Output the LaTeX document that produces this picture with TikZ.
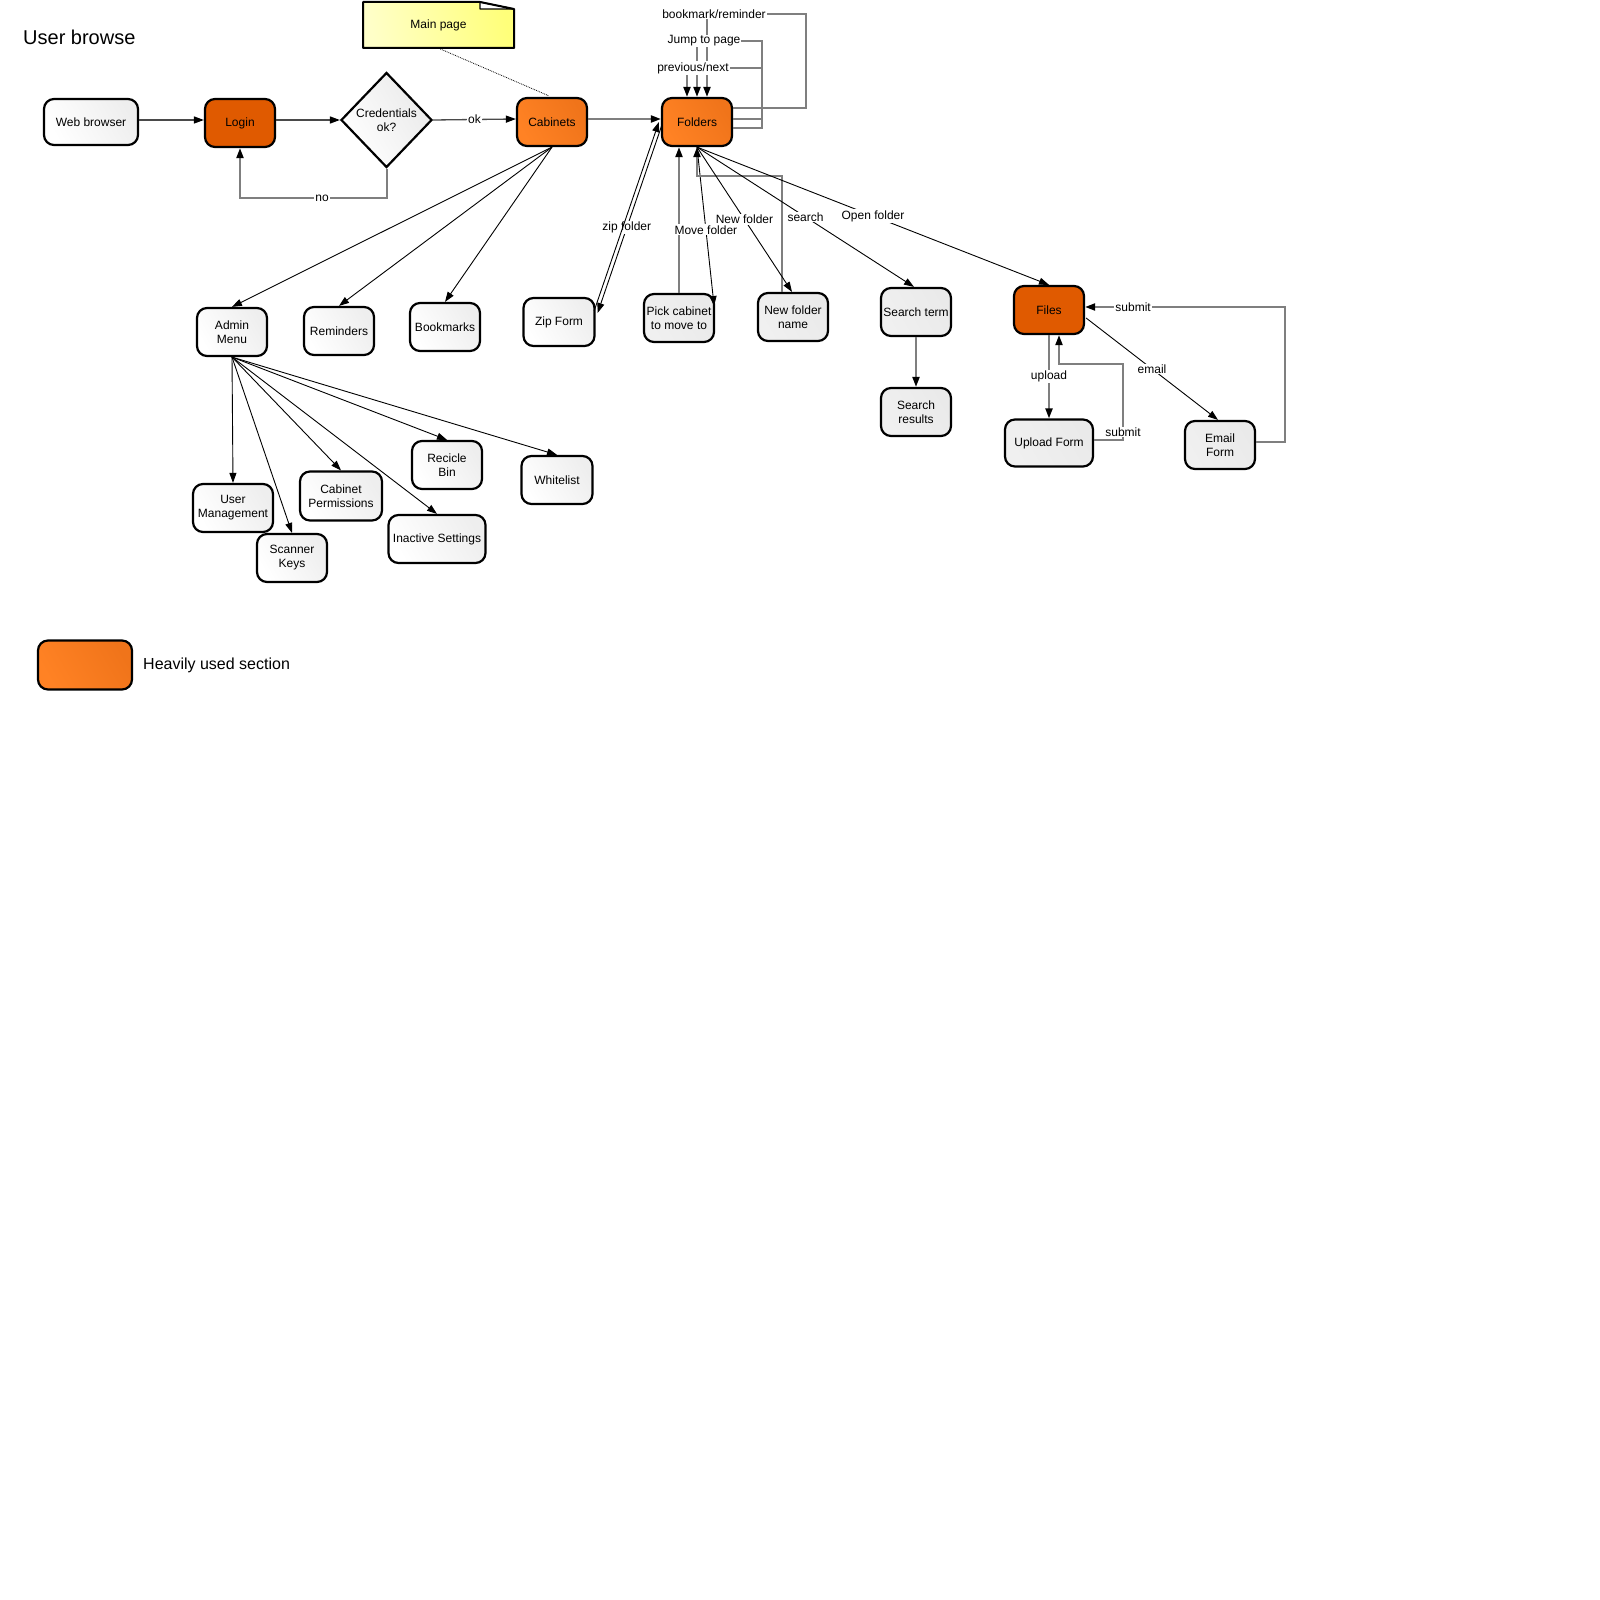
\documentclass[tikz,border=0pt]{standalone}
\usepackage{fontspec}
\setmainfont{Liberation Sans}
\usetikzlibrary{arrows.meta,shapes.geometric,calc}
\definecolor{hotA}{HTML}{FF8224}
\definecolor{hotB}{HTML}{F0741A}
\definecolor{darkor}{HTML}{E05A00}
\definecolor{lgray}{HTML}{F0F0F0}
\definecolor{lgrayB}{HTML}{EAEAEA}
\definecolor{wgrayB}{HTML}{EEEEEE}
\definecolor{edgegray}{HTML}{7F7F7F}
\definecolor{edgedark}{HTML}{4A4A4A}
\definecolor{noteA}{HTML}{FFFFC8}
\definecolor{noteB}{HTML}{FFFF7A}
\tikzset{
  f12/.style={font=\fontsize{12}{14}\selectfont},
  box/.style={draw=black, line width=2.2pt, rounded corners=10pt, minimum width=70pt, minimum height=48pt, inner sep=1pt, align=center, f12},
  whitebox/.style={box, left color=white, right color=wgrayB, shading angle=120},
  graybox/.style={box, left color=lgray, right color=lgrayB, shading angle=120},
  hotbox/.style={box, left color=hotA, right color=hotB, shading angle=120},
  darkbox/.style={box, fill=darkor},
  tip/.style={-{Triangle[length=10pt,width=7pt,color=black]}},
  bl/.style={draw=black, line width=0.9pt, tip},
  gr/.style={draw=edgegray, line width=2pt, tip},
  gd/.style={draw=edgedark, line width=1.3pt, tip},
  lbl/.style={fill=white, inner sep=1pt, f12}
}
\begin{document}
\begin{tikzpicture}[x=1pt,y=-1pt]
\useasboundingbox[fill=white] (0,0) rectangle (1600,1600);

% title
\node[anchor=west, inner sep=0pt, font=\fontsize{20}{24}\selectfont] (title) at (23,37) {User browse};

% main page note
\node[minimum width=151pt, minimum height=46pt, inner sep=0pt, f12] (mainpage) at (438.5,25) {};
\path[left color=noteA, right color=noteB, shading angle=100]
  (363,2) -- (480,2) -- (514,9) -- (514,48) -- (363,48) -- cycle;
\draw[line width=1.2pt, fill=white, line join=bevel] (480,2) -- (480,9) -- (514,9) -- cycle;
\draw[line width=2pt, line join=bevel] (363,2) -- (480,2) -- (514,9) -- (514,48) -- (363,48) -- cycle;
\node[f12] at (mainpage) {Main page};

% nodes
\node[whitebox, minimum width=94pt, minimum height=46pt] (web) at (91,122) {Web browser};
\node[darkbox] (login) at (240,123) {Login};
\node[draw=black, line width=2.2pt, diamond, minimum width=91pt, minimum height=95pt, inner sep=0pt, align=center, f12, left color=white, right color=lgrayB, shading angle=120] (cred) at (386.5,120) {Credentials\\ok?};
\node[hotbox] (cab) at (552,122) {Cabinets};
\node[hotbox] (fold) at (697,122) {Folders};

\node[whitebox] (admin) at (232,332) {Admin\\Menu};
\node[whitebox] (rem) at (339,331) {Reminders};
\node[whitebox] (bm) at (445,327) {Bookmarks};
\node[whitebox, minimum width=71pt] (zip) at (559,322) {Zip Form};
\node[graybox] (pick) at (679,318) {Pick cabinet\\to move to};
\node[graybox] (nfn) at (793,317) {New folder\\name};
\node[graybox] (st) at (916,312) {Search term};
\node[darkbox] (files) at (1049,310) {Files};
\node[graybox] (sr) at (916,412) {Search\\results};
\node[graybox, minimum width=88pt, minimum height=47pt] (up) at (1049,443) {Upload Form};
\node[graybox] (em) at (1220,445) {Email\\Form};

\node[whitebox, minimum width=80pt] (um) at (233,508) {User\\Management};
\node[whitebox] (sk) at (292,558) {Scanner\\Keys};
\node[whitebox, minimum width=82pt, minimum height=49pt] (cp) at (341,496) {Cabinet\\Permissions};
\node[whitebox] (rb) at (447,465) {Recicle\\Bin};
\node[whitebox, minimum width=97pt] (ina) at (437,539) {Inactive Settings};
\node[whitebox, minimum width=71pt] (wl) at (557,480) {Whitelist};

% legend
\node[hotbox, minimum width=94pt, minimum height=49pt] (leg) at (85,665) {};
\node[anchor=west, inner sep=0pt, font=\fontsize{16}{19}\selectfont] (legtxt) at (143,665) {Heavily used section};

% connectors
\draw[densely dotted, line width=0.8pt] (mainpage.south) -- ($(cab.north)+(-3,-1)$);

\draw[gd] ($(web.east)+(0,-2)$) -- ($(login.west)+(0,-3)$);
\draw[gd] ($(login.east)+(0,-3)$) -- (cred.west);
\draw[gd] (cred.east) -- node[lbl]{ok} ($(cab.west)+(0,-3)$);
\draw[gr] (cred.south) -- (386.5,198) -- node[lbl, pos=0.44]{no} (240,198) -- (login.south);
\draw[gr] ($(cab.east)+(0,-3)$) -- ($(fold.west)+(0,-3)$);

\draw[bl] (cab.south) -- (admin.north);
\draw[bl] (cab.south) -- (rem.north);
\draw[bl] (cab.south) -- (bm.north);

\draw[bl] (admin.south) -- (um.north);
\draw[bl] (admin.south) -- (sk.north);
\draw[bl] (admin.south) -- (cp.north);
\draw[bl] (admin.south) -- (ina.north);
\draw[bl] (admin.south) -- (rb.north);
\draw[bl] (admin.south) -- (wl.north);

% folder self loops
\draw[gr] ($(fold.east)+(0,-14)$) -- (806,108) -- (806,14) -- (707,14) node[lbl, xshift=7pt]{bookmark/reminder} -- ($(fold.north)+(10,0)$);
\draw[gr] ($(fold.east)+(0,-3)$) -- (762,119) -- (762,41) -- (697,41) node[lbl, xshift=7pt]{Jump to page} -- (fold.north);
\draw[gr] ($(fold.east)+(0,6)$) -- (762,128) -- (762,68) -- (687,68) node[lbl, xshift=6pt]{previous/next} -- ($(fold.north)+(-10,0)$);

% zip folder double line
\draw[bl] ($(fold.west)+(1.5,1.5)$) -- node[lbl, pos=0.55]{zip folder} ($(zip.east)+(2,-9)$);
\draw[bl] ($(zip.east)+(-1.5,-11)$) -- ($(fold.west)+(-2,0)$);

% move folder
\draw[gr] (pick.north) -- ($(fold.south)+(-18,0)$);
\draw[bl] (fold.south) -- node[lbl, pos=0.52]{Move folder} ($(pick.east)+(-1,-12)$);

% new folder
\draw[gr] ($(nfn.north)+(-11,0)$) -- (782,176) -- (697,176) -- (fold.south);
\draw[bl] (fold.south) -- node[lbl]{New folder} ($(nfn.north)+(-1,0)$);

% search
\draw[bl] (fold.south) -- node[lbl]{search} ($(st.north)+(-2,0)$);
\draw[gr] (st.south) -- (sr.north);

% open folder
\draw[bl] (fold.south) -- node[lbl]{Open folder} (files.north);

% files
\draw[gr] (files.south) -- node[lbl]{upload} (up.north);
\draw[gr] ($(up.east)+(0,-3)$) -- (1123,440) node[lbl, yshift=8pt]{submit} -- (1123,364) -- (1059,364) -- ($(files.south)+(10,0)$);
\draw[bl] ($(files.east)+(1,8)$) -- node[lbl]{email} ($(em.north)+(-2,0)$);
\draw[gr] ($(em.east)+(0,-3)$) -- (1285,442) -- (1285,307) -- node[lbl, pos=0.76]{submit} ($(files.east)+(0,-3)$);

\end{tikzpicture}
\end{document}
